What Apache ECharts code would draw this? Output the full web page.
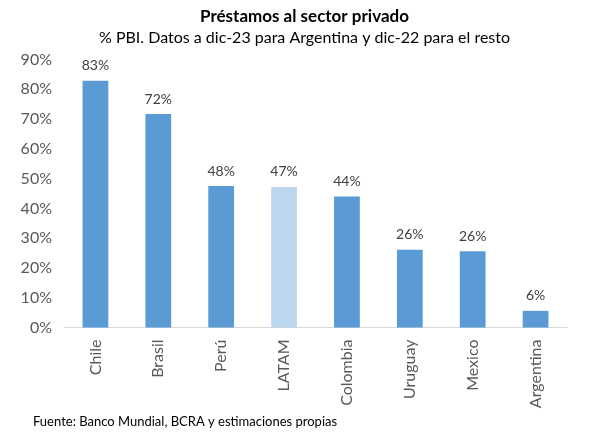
<!DOCTYPE html>
<html><head><meta charset="utf-8">
<script src="https://cdn.jsdelivr.net/npm/echarts@6/dist/echarts.min.js"></script>
<style>html,body{margin:0;padding:0;background:#fff}#c{width:609px;height:441px}</style>
</head><body><div id="c"></div>
<script>
const categories = ["Chile","Brasil","Perú","LATAM","Colombia","Uruguay","Mexico","Argentina"];
const values = [82.9, 71.7, 47.5, 47.2, 44.0, 26.1, 25.6, 5.6];
const highlight = "LATAM";
const yTicks = {min:0, max:90, interval:10};
const F = "Lato";
const chart = echarts.init(document.getElementById('c'));
chart.setOption({
  animation:false,
  title:[
    {text:"Préstamos al sector privado", left:'center', top:3, textStyle:{fontFamily:F, fontSize:17, fontWeight:'bold', color:'#000'}},
    {text:"% PBI. Datos a dic-23 para Argentina y dic-22 para el resto", left:'center', top:25, textStyle:{fontFamily:F, fontSize:16, fontWeight:'normal', color:'#000'}},
    {text:"Fuente: Banco Mundial, BCRA y estimaciones propias", left:28, top:410, textStyle:{fontFamily:F, fontSize:13, fontWeight:'normal', color:'#000'}}
  ],
  grid:{left:64, right:42, top:59.5, bottom:113.5, containLabel:false},
  xAxis:{type:'category', data:categories,
    axisLine:{lineStyle:{color:'#D9D9D9', width:1}}, axisTick:{show:false},
    axisLabel:{rotate:90, fontFamily:F, fontSize:16, color:'#595959', margin:12}},
  yAxis:{type:'value', min:yTicks.min, max:yTicks.max, interval:yTicks.interval,
    splitLine:{show:false}, axisLine:{show:false}, axisTick:{show:false},
    axisLabel:{formatter:v=>v+'%', fontFamily:F, fontSize:16, color:'#595959', margin:12}},
  series:[{type:'bar', barCategoryGap:'59%',
    data:values.map((v,i)=>({value:v, itemStyle:{color: categories[i]===highlight ? '#BDD7EE' : '#5B9BD5'}})),
    label:{show:true, position:'top', distance:8, formatter:p=>Math.round(p.value)+'%', fontFamily:F, fontSize:14, color:'#404040'}
  }]
});
</script></body></html>
